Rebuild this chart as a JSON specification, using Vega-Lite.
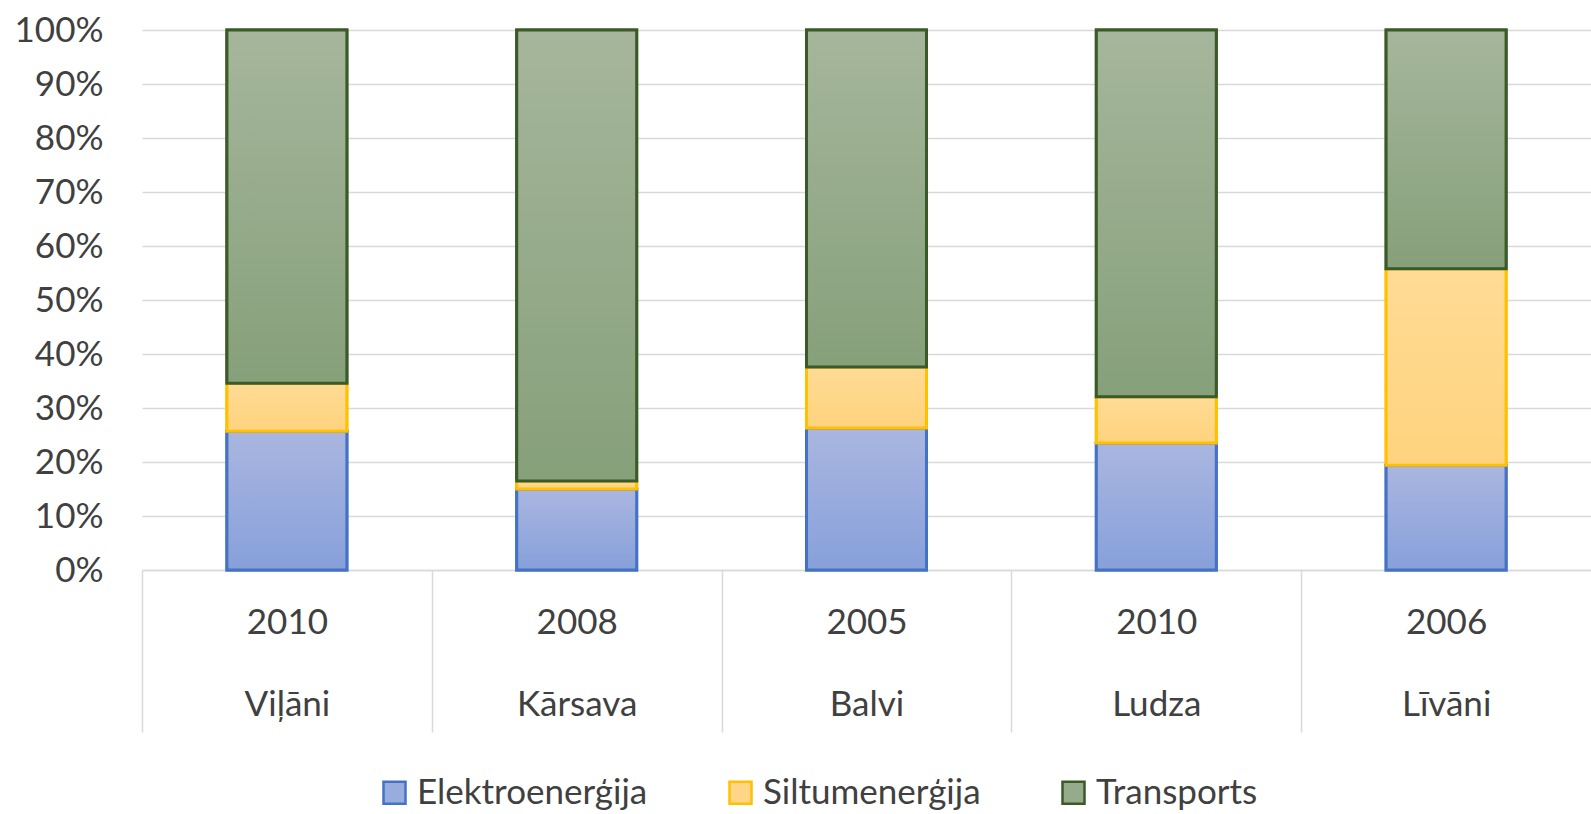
{
  "$schema": "https://vega.github.io/schema/vega-lite/v6.json",
  "width": 1449,
  "height": 540,
  "autosize": "none",
  "padding": {"left": 142, "top": 30, "right": 0, "bottom": 244},
  "background": "white",
  "config": {
    "font": "Lato",
    "view": {"stroke": null},
    "axis": {"labelFont": "Lato", "labelColor": "#404040", "labelFontSize": 35}
  },
  "data": {
    "values": [
      {"label": "2010|Viļāni", "type": "Elektroenerģija", "value": 25.7},
      {"label": "2010|Viļāni", "type": "Siltumenerģija", "value": 8.9},
      {"label": "2010|Viļāni", "type": "Transports", "value": 65.4},
      {"label": "2008|Kārsava", "type": "Elektroenerģija", "value": 15.0},
      {"label": "2008|Kārsava", "type": "Siltumenerģija", "value": 1.5},
      {"label": "2008|Kārsava", "type": "Transports", "value": 83.5},
      {"label": "2005|Balvi", "type": "Elektroenerģija", "value": 26.3},
      {"label": "2005|Balvi", "type": "Siltumenerģija", "value": 11.3},
      {"label": "2005|Balvi", "type": "Transports", "value": 62.4},
      {"label": "2010|Ludza", "type": "Elektroenerģija", "value": 23.5},
      {"label": "2010|Ludza", "type": "Siltumenerģija", "value": 8.6},
      {"label": "2010|Ludza", "type": "Transports", "value": 67.9},
      {"label": "2006|Līvāni", "type": "Elektroenerģija", "value": 19.4},
      {"label": "2006|Līvāni", "type": "Siltumenerģija", "value": 36.4},
      {"label": "2006|Līvāni", "type": "Transports", "value": 44.2}
    ]
  },
  "transform": [
    {"stack": "value", "groupby": ["label"], "sort": [{"field": "type", "order": "ascending"}], "offset": "normalize", "as": ["v0", "v1"]}
  ],
  "encoding": {
    "x": {
      "field": "label", "type": "nominal", "sort": null, "title": null,
      "scale": {"paddingInner": 0.586, "paddingOuter": 0.293},
      "axis": {
        "labelAngle": 0,
        "labelExpr": "datum.value ? split(datum.value, '|') : ''",
        "labelLineHeight": 82,
        "labelBaseline": "top",
        "labelPadding": -127,
        "tickOffset": -144.9,
        "labelOffset": 144.9,
        "ticks": true,
        "tickSize": 162,
        "tickColor": "#D9D9D9",
        "tickWidth": 1.5,
        "domain": true,
        "domainColor": "#D9D9D9",
        "domainWidth": 1.5
      }
    },
    "y": {
      "field": "v0", "type": "quantitative", "title": null,
      "scale": {"domain": [0, 1], "nice": false},
      "axis": {
        "format": ".0%",
        "values": [0, 0.1, 0.2, 0.3, 0.4, 0.5, 0.6, 0.7, 0.8, 0.9, 1],
        "ticks": false,
        "domain": false,
        "labelPadding": 39,
        "gridColor": "#D9D9D9",
        "gridWidth": 1.5
      }
    },
    "y2": {"field": "v1"}
  },
  "layer": [
    {
      "mark": {"type": "bar", "strokeWidth": 3},
      "encoding": {
        "color": {
          "field": "type", "type": "nominal", "title": null,
          "scale": {"domain": ["Elektroenerģija", "Siltumenerģija", "Transports"], "range": ["#98ACDE", "#FFD688", "#96AA8C"]},
          "legend": {
            "orient": "none",
            "direction": "horizontal",
            "legendX": 235,
            "legendY": 745,
            "symbolType": "square",
            "symbolSize": 484,
            "symbolStrokeWidth": 2.5,
            "labelFont": "Lato",
            "labelFontSize": 35,
            "labelColor": "#404040",
            "labelOffset": 5,
            "labelLimit": 500,
            "columnPadding": 75
          }
        },
        "stroke": {
          "field": "type", "type": "nominal", "title": null,
          "scale": {"domain": ["Elektroenerģija", "Siltumenerģija", "Transports"], "range": ["#4472C4", "#FFC000", "#3A5A28"]}
        }
      }
    },
    {
      "transform": [{"filter": "datum.type == 'Elektroenerģija'"}],
      "mark": {"type": "bar", "strokeWidth": 3, "stroke": "#4472C4",
        "fill": {"gradient": "linear", "x1": 0, "y1": 0, "x2": 0, "y2": 1,
          "stops": [{"offset": 0, "color": "#AAB6E0"}, {"offset": 1, "color": "#87A0DA"}]}}
    },
    {
      "transform": [{"filter": "datum.type == 'Siltumenerģija'"}],
      "mark": {"type": "bar", "strokeWidth": 3, "stroke": "#FFC000",
        "fill": {"gradient": "linear", "x1": 0, "y1": 0, "x2": 0, "y2": 1,
          "stops": [{"offset": 0, "color": "#FFDB95"}, {"offset": 1, "color": "#FFD37E"}]}}
    },
    {
      "transform": [{"filter": "datum.type == 'Transports'"}],
      "mark": {"type": "bar", "strokeWidth": 3, "stroke": "#3A5A28",
        "fill": {"gradient": "linear", "x1": 0, "y1": 0, "x2": 0, "y2": 1,
          "stops": [{"offset": 0, "color": "#A6B69C"}, {"offset": 1, "color": "#86A07A"}]}}
    }
  ]
}
